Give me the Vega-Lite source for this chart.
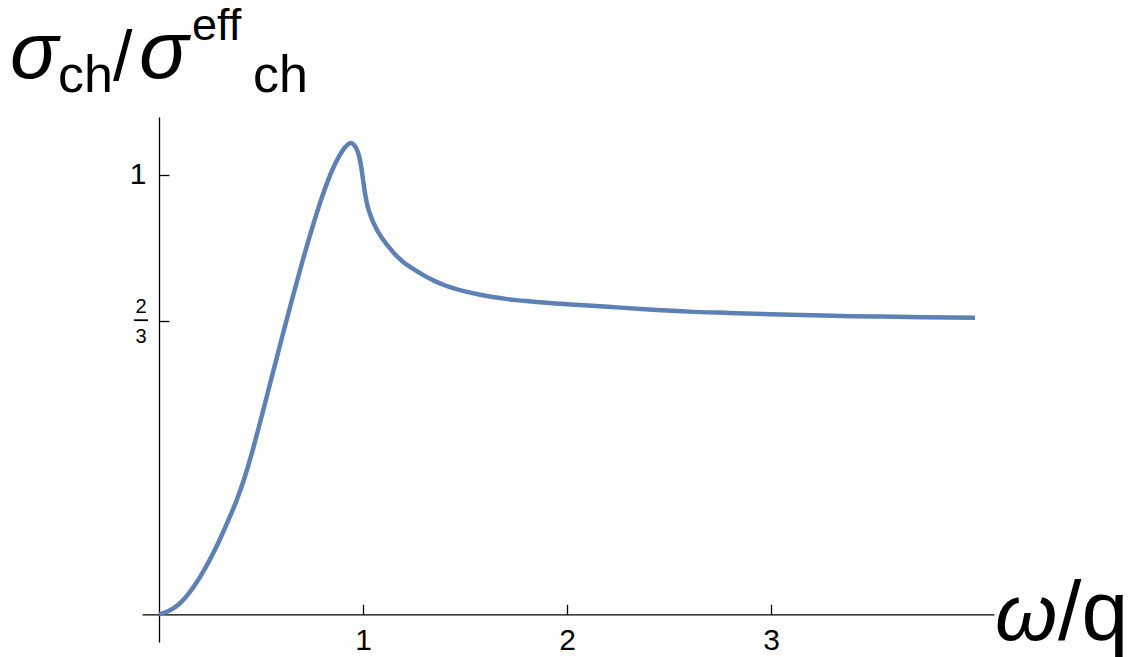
{
  "$schema": "https://vega.github.io/schema/vega-lite/v6.json",
  "width": 852,
  "height": 525,
  "autosize": {"type": "none"},
  "padding": {"left": 142, "top": 117, "right": 154, "bottom": 15},
  "background": "white",
  "config": {"view": {"stroke": null}, "font": "Liberation Sans"},
  "datasets": {
    "curve": [
      {"w": 0, "v": 0},
      {"w": 0.05, "v": 0.008},
      {"w": 0.1, "v": 0.024},
      {"w": 0.15, "v": 0.05},
      {"w": 0.2, "v": 0.084},
      {"w": 0.25, "v": 0.125},
      {"w": 0.3, "v": 0.172},
      {"w": 0.35, "v": 0.225},
      {"w": 0.381, "v": 0.26},
      {"w": 0.42, "v": 0.312},
      {"w": 0.46, "v": 0.375},
      {"w": 0.5, "v": 0.445},
      {"w": 0.55, "v": 0.535},
      {"w": 0.6, "v": 0.625},
      {"w": 0.65, "v": 0.713},
      {"w": 0.7, "v": 0.798},
      {"w": 0.75, "v": 0.878},
      {"w": 0.8, "v": 0.951},
      {"w": 0.85, "v": 1.012},
      {"w": 0.88, "v": 1.04},
      {"w": 0.91, "v": 1.062},
      {"w": 0.94, "v": 1.073},
      {"w": 0.955, "v": 1.069},
      {"w": 0.97, "v": 1.058},
      {"w": 0.98, "v": 1.044},
      {"w": 0.99, "v": 1.022},
      {"w": 1.0, "v": 0.99},
      {"w": 1.01, "v": 0.958},
      {"w": 1.02, "v": 0.934},
      {"w": 1.03, "v": 0.917},
      {"w": 1.045, "v": 0.898},
      {"w": 1.06, "v": 0.883},
      {"w": 1.08, "v": 0.866},
      {"w": 1.1, "v": 0.852},
      {"w": 1.13, "v": 0.834},
      {"w": 1.16, "v": 0.818},
      {"w": 1.2, "v": 0.801},
      {"w": 1.25, "v": 0.785},
      {"w": 1.3, "v": 0.771},
      {"w": 1.35, "v": 0.759},
      {"w": 1.4, "v": 0.749},
      {"w": 1.5, "v": 0.735},
      {"w": 1.6, "v": 0.725},
      {"w": 1.7, "v": 0.718},
      {"w": 1.8, "v": 0.713},
      {"w": 1.9, "v": 0.709},
      {"w": 2.0, "v": 0.706},
      {"w": 2.2, "v": 0.7},
      {"w": 2.4, "v": 0.694},
      {"w": 2.6, "v": 0.689},
      {"w": 2.8, "v": 0.686},
      {"w": 3.0, "v": 0.683},
      {"w": 3.25, "v": 0.68},
      {"w": 3.5, "v": 0.678},
      {"w": 3.75, "v": 0.676},
      {"w": 4.0, "v": 0.675}
    ],
    "one": [{}]
  },
  "layer": [
    {
      "data": {"name": "curve"},
      "mark": {"type": "line", "color": "#5E81B5", "strokeWidth": 4.5, "interpolate": "monotone", "clip": false},
      "encoding": {
        "x": {
          "field": "w", "type": "quantitative",
          "scale": {"domain": [-0.0833, 4.093], "nice": false, "zero": false},
          "axis": {
            "values": [1, 2, 3], "format": "d", "offset": -27.7, "tickSize": -10, "labelPadding": 21,
            "labelFontSize": 30, "labelColor": "black", "domainColor": "black", "tickColor": "black",
            "domainWidth": 1.3, "tickWidth": 1.3, "grid": false, "title": null,
            "labelFlush": false, "labelOverlap": false, "labelFont": "Liberation Sans"
          }
        },
        "y": {
          "field": "v", "type": "quantitative",
          "scale": {"domain": [-0.063, 1.132], "nice": false, "zero": false},
          "axis": {
            "values": [0.6666667, 1], "offset": -17, "tickSize": -10, "labelPadding": 23,
            "labelExpr": "datum.value > 0.9 ? '1' : ''",
            "labelFontSize": 30,
            "labelColor": "black", "domainColor": "black", "tickColor": "black",
            "domainWidth": 1.3, "tickWidth": 1.3, "grid": false, "title": null,
            "labelFlush": false, "labelOverlap": false, "labelFont": "Liberation Sans"
          }
        }
      }
    },
    {
      "data": {"name": "one"},
      "mark": {"type": "text", "text": "2", "fontSize": 20, "align": "center", "baseline": "alphabetic", "color": "black"},
      "encoding": {"x": {"datum": -0.0882}, "y": {"datum": 0.6859}}
    },
    {
      "data": {"name": "one"},
      "mark": {"type": "rule", "color": "black", "strokeWidth": 1.8},
      "encoding": {"x": {"datum": -0.1226}, "x2": {"datum": -0.0539}, "y": {"datum": 0.6695}}
    },
    {
      "data": {"name": "one"},
      "mark": {"type": "text", "text": "3", "fontSize": 20, "align": "center", "baseline": "alphabetic", "color": "black"},
      "encoding": {"x": {"datum": -0.0882}, "y": {"datum": 0.6176}}
    },
    {
      "data": {"name": "one"},
      "mark": {"type": "text", "text": "σ", "fontSize": 80, "fontStyle": "italic", "align": "left", "baseline": "alphabetic", "color": "black"},
      "encoding": {"x": {"datum": -0.73}, "y": {"datum": 1.2208}}
    },
    {
      "data": {"name": "one"},
      "mark": {"type": "text", "text": "ch", "fontSize": 52, "align": "left", "baseline": "alphabetic", "color": "black"},
      "encoding": {"x": {"datum": -0.495}, "y": {"datum": 1.189}}
    },
    {
      "data": {"name": "one"},
      "mark": {"type": "text", "text": "/", "fontSize": 70, "align": "left", "baseline": "alphabetic", "color": "black"},
      "encoding": {"x": {"datum": -0.225}, "y": {"datum": 1.2166}}
    },
    {
      "data": {"name": "one"},
      "mark": {"type": "text", "text": "σ", "fontSize": 82, "fontStyle": "italic", "align": "left", "baseline": "alphabetic", "color": "black"},
      "encoding": {"x": {"datum": -0.098}, "y": {"datum": 1.2208}}
    },
    {
      "data": {"name": "one"},
      "mark": {"type": "text", "text": "eff", "fontSize": 45, "align": "left", "baseline": "alphabetic", "color": "black"},
      "encoding": {"x": {"datum": 0.162}, "y": {"datum": 1.307}}
    },
    {
      "data": {"name": "one"},
      "mark": {"type": "text", "text": "ch", "fontSize": 52, "align": "left", "baseline": "alphabetic", "color": "black"},
      "encoding": {"x": {"datum": 0.461}, "y": {"datum": 1.189}}
    },
    {
      "data": {"name": "one"},
      "mark": {"type": "text", "text": "ω", "fontSize": 80, "fontStyle": "italic", "align": "left", "baseline": "alphabetic", "color": "black"},
      "encoding": {"x": {"datum": 4.098}, "y": {"datum": -0.0592}}
    },
    {
      "data": {"name": "one"},
      "mark": {"type": "text", "text": "/q", "fontSize": 84, "align": "left", "baseline": "alphabetic", "color": "black"},
      "encoding": {"x": {"datum": 4.407}, "y": {"datum": -0.0592}}
    }
  ]
}
